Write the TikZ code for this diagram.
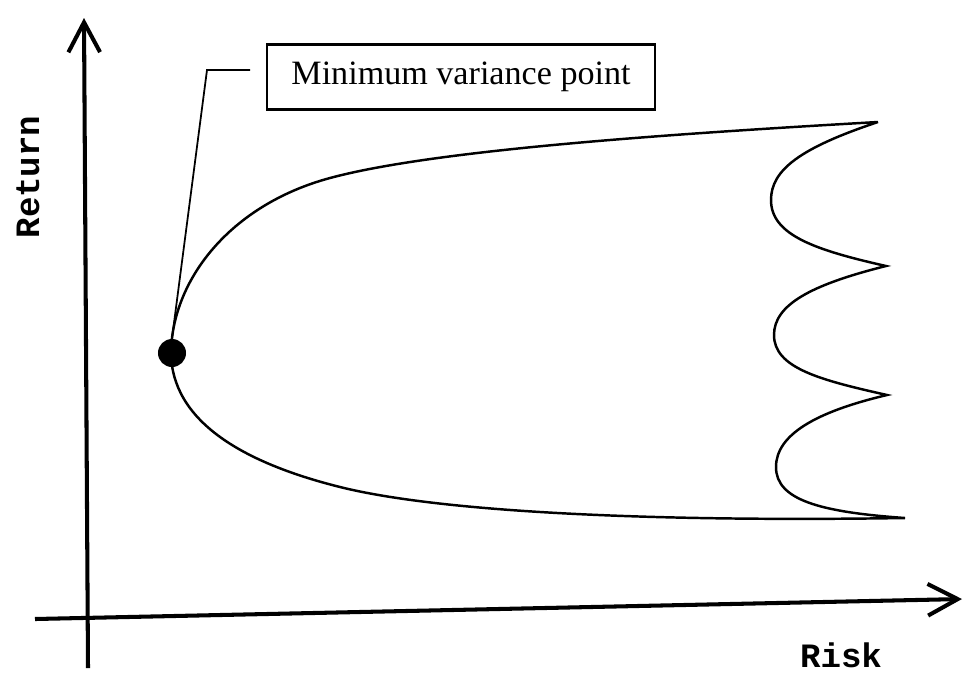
\documentclass[tikz,border=0pt]{standalone}
\usepackage{fontspec}
\setmainfont{Liberation Serif}
\setmonofont{Liberation Mono}
\usepackage{tikz}
\usetikzlibrary{positioning, arrows.meta}

\begin{document}
\begin{tikzpicture}[
  x=0.01cm, y=-0.01cm,
  every node/.style={font=\fontsize{9.7}{12}\selectfont},
  axis/.style={
    line width=1.15pt,
    -{Straight Barb[length=8.5pt, width=9pt]},
  },
  axislabel/.style={
    font=\fontsize{9.7}{12}\selectfont\ttfamily\bfseries,
  },
  frontier/.style={
    line width=0.7pt,
  },
  callout/.style={
    draw,
    line width=0.6pt,
    minimum width=3.88cm,
    minimum height=0.65cm,
    inner sep=2pt,
  },
  leader/.style={
    line width=0.5pt,
  },
]
  \useasboundingbox (0,0) rectangle (964,672);

  % axes
  \coordinate (ybot) at (88,668);
  \coordinate (ytop) at (84,18);
  \coordinate (xleft) at (35,619);
  \coordinate (xright) at (962,599);
  \draw[axis] (ybot) -- (ytop);
  \draw[axis] (xleft) -- (xright);
  \node[axislabel, rotate=90] (ret) at (28,177) {Return};
  \node[axislabel] (risk) at (841,655) {Risk};

  % efficient frontier and feasible set
  \draw[frontier] (878,122) .. controls (650,135) and (430,151) .. (330,178)
    .. controls (230,205) and (172,280) .. (171,353)
    .. controls (172,420) and (240,462) .. (340,487)
    .. controls (440,512) and (650,522) .. (905,518)
    .. controls (820,512) and (776,500) .. (776,467)
    .. controls (776,435) and (815,412) .. (887,395)
    .. controls (820,380) and (774,368) .. (774,335)
    .. controls (774,305) and (810,285) .. (886,266)
    .. controls (815,250) and (771,235) .. (771,200)
    .. controls (771,170) and (800,148) .. (878,122);

  % minimum variance point and its callout
  \node[circle, fill, inner sep=0pt, minimum size=0.28cm] (mvp) at (172,353) {};
  \node[callout] (mvlabel) at (461,77) {Minimum variance point};
  \coordinate (bend) at (207,70);
  \coordinate (leadend) at (250,70);
  \draw[leader] (mvp.north) -- (bend) -- (leadend);
\end{tikzpicture}
\end{document}
